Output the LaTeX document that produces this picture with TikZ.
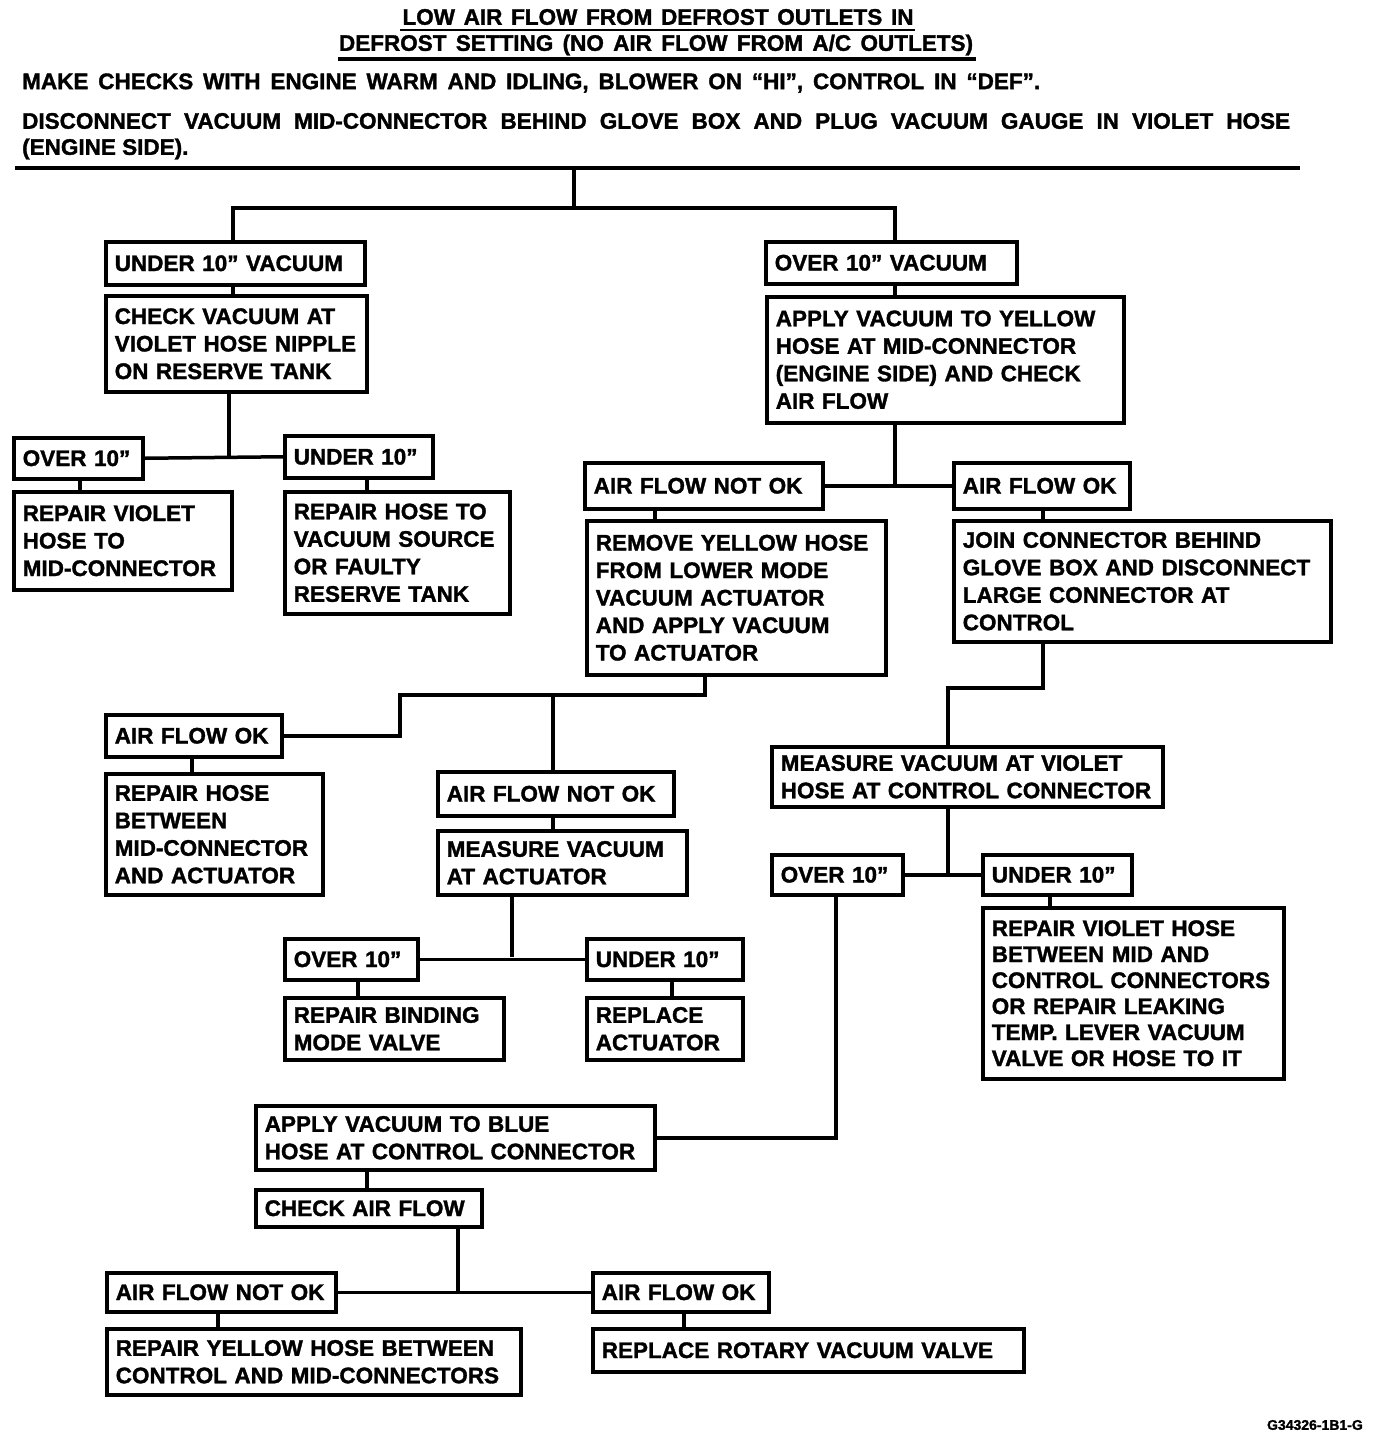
\documentclass[tikz,border=0pt]{standalone}
\usepackage{fontspec}
\setmainfont{Liberation Sans}[BoldFeatures={FakeBold=1.5}]
\begin{document}
\begin{tikzpicture}[x=1pt,y=-1pt,
  box/.style={draw, line width=3.5pt, anchor=north west, align=left,
    inner xsep=9pt, inner ysep=0pt,
    font=\bfseries\fontsize{22.5}{27.5}\selectfont},
  conn/.style={line width=3.5pt},
  hdr/.style={anchor=west, inner sep=0pt, font=\bfseries\fontsize{22.5}{27}\selectfont},
  ttl/.style={inner sep=0pt, font=\bfseries\fontsize{22.5}{26}\selectfont}]
\useasboundingbox (0,0) rectangle (1392,1436);
\fill[white] (0,0) rectangle (1392,1436);

% header
\node[ttl] (t1) at (658,17) {\makebox[511pt][s]{LOW AIR FLOW FROM DEFROST OUTLETS IN}};
\node[ttl] (t2) at (656,45) {\makebox[634pt][s]{DEFROST SETTING (NO AIR FLOW FROM A/C OUTLETS)}};
\draw[line width=2.5pt] (400,30) -- (915,30);
\draw[line width=4.5pt] (338,59) -- (976,59);
\node[hdr] (h1) at (22,83) {\makebox[1018pt][s]{MAKE CHECKS WITH ENGINE WARM AND IDLING, BLOWER ON ``HI'', CONTROL IN ``DEF''.}};
\node[hdr] (h2) at (22,121) {\makebox[1268pt][s]{DISCONNECT VACUUM MID-CONNECTOR BEHIND GLOVE BOX AND PLUG VACUUM GAUGE IN VIOLET HOSE}};
\node[hdr] (h3) at (22,149) {(ENGINE SIDE).};
\draw[line width=4pt] (15,168) -- (1300,168);

% boxes
\node[box, text width=241pt, minimum height=43pt] (b1) at (104,240) {UNDER 10'' VACUUM};
\node[box, text width=243pt, minimum height=96pt] (b2) at (104,294) {CHECK VACUUM AT\\VIOLET HOSE NIPPLE\\ON RESERVE TANK};
\node[box, text width=111pt, minimum height=41pt] (b3) at (12,436) {OVER 10''};
\node[box, text width=130pt, minimum height=42pt] (b4) at (283,434) {UNDER 10''};
\node[box, text width=200pt, minimum height=98pt] (b5) at (12,490) {REPAIR VIOLET\\HOSE TO\\MID-CONNECTOR};
\node[box, text width=207pt, minimum height=122pt] (b6) at (283,490) {REPAIR HOSE TO\\VACUUM SOURCE\\OR FAULTY\\RESERVE TANK};
\node[box, text width=233pt, minimum height=42pt] (b7) at (764,240) {OVER 10'' VACUUM};
\node[box, text width=339pt, minimum height=126pt] (b8) at (765,295) {APPLY VACUUM TO YELLOW\\HOSE AT MID-CONNECTOR\\(ENGINE SIDE) AND CHECK\\AIR FLOW};
\node[box, text width=220pt, minimum height=46pt] (b9) at (583,461) {AIR FLOW NOT OK};
\node[box, text width=158pt, minimum height=46pt] (b10) at (952,461) {AIR FLOW OK};
\node[box, text width=281pt, minimum height=154pt] (b11) at (585,519) {REMOVE YELLOW HOSE\\FROM LOWER MODE\\VACUUM ACTUATOR\\AND APPLY VACUUM\\TO ACTUATOR};
\node[box, text width=359pt, minimum height=121pt] (b12) at (952,519) {JOIN CONNECTOR BEHIND\\GLOVE BOX AND DISCONNECT\\LARGE CONNECTOR AT\\CONTROL};
\node[box, text width=158pt, minimum height=42pt] (b13) at (104,713) {AIR FLOW OK};
\node[box, text width=199pt, minimum height=121pt] (b14) at (104,772) {REPAIR HOSE\\BETWEEN\\MID-CONNECTOR\\AND ACTUATOR};
\node[box, text width=218pt, minimum height=44pt] (b15) at (436,770) {AIR FLOW NOT OK};
\node[box, text width=231pt, minimum height=64pt] (b16) at (436,829) {MEASURE VACUUM\\AT ACTUATOR};
\node[box, text width=115pt, minimum height=41pt] (b17) at (283,937) {OVER 10''};
\node[box, text width=138pt, minimum height=41pt] (b18) at (585,937) {UNDER 10''};
\node[box, text width=201pt, minimum height=62pt] (b19) at (283,996) {REPAIR BINDING\\MODE VALVE};
\node[box, text width=138pt, minimum height=62pt] (b20) at (585,996) {REPLACE\\ACTUATOR};
\node[box, text width=373pt, minimum height=60pt] (b21) at (770,745) {MEASURE VACUUM AT VIOLET\\HOSE AT CONTROL CONNECTOR};
\node[box, text width=113pt, minimum height=40pt] (b22) at (770,853) {OVER 10''};
\node[box, text width=131pt, minimum height=40pt] (b23) at (981,853) {UNDER 10''};
\node[box, text width=283pt, minimum height=171pt, font=\bfseries\fontsize{22.5}{26}\selectfont] (b24) at (981,906) {REPAIR VIOLET HOSE\\BETWEEN MID AND\\CONTROL CONNECTORS\\OR REPAIR LEAKING\\TEMP. LEVER VACUUM\\VALVE OR HOSE TO IT};
\node[box, text width=381pt, minimum height=64pt] (b25) at (254,1104) {APPLY VACUUM TO BLUE\\HOSE AT CONTROL CONNECTOR};
\node[box, text width=208pt, minimum height=37pt] (b26) at (254,1188) {CHECK AIR FLOW};
\node[box, text width=211pt, minimum height=39pt] (b27) at (105,1271) {AIR FLOW NOT OK};
\node[box, text width=158pt, minimum height=39pt] (b28) at (591,1271) {AIR FLOW OK};
\node[box, text width=396pt, minimum height=66pt] (b29) at (105,1327) {REPAIR YELLOW HOSE BETWEEN\\CONTROL AND MID-CONNECTORS};
\node[box, text width=413pt, minimum height=43pt] (b30) at (591,1327) {REPLACE ROTARY VACUUM VALVE};

\node[inner sep=0pt, anchor=east, font=\bfseries\fontsize{14}{16}\selectfont] (fig) at (1363,1425) {G34326-1B1-G};

% coordinates
\coordinate (r0) at (574,168);
\coordinate (r1) at (574,208);
\coordinate (ta) at (233,208);
\coordinate (tb) at (895,208);
\coordinate (j1) at (229,457);
\coordinate (c5) at (80,0);
\coordinate (c6) at (367,0);
\coordinate (j2) at (895,484);
\coordinate (c11) at (655,0);
\coordinate (c12) at (1043,0);
\coordinate (k1) at (705,695);
\coordinate (k2) at (400,695);
\coordinate (k3) at (553,695);
\coordinate (c14) at (192,0);
\coordinate (j3) at (512,957);
\coordinate (c19) at (358,0);
\coordinate (c20) at (672,0);
\coordinate (m1) at (1043,688);
\coordinate (m2) at (948,688);
\coordinate (j4) at (948,873);
\coordinate (c24) at (1050,0);
\coordinate (n1) at (836,0);
\coordinate (c26) at (367,0);
\coordinate (j5) at (458,1291);
\coordinate (c29) at (218,0);
\coordinate (c30) at (684,0);

% connectors
\draw[conn] (r0) -- (r1);
\draw[conn] (b1.north -| ta) -- (ta) -- (tb) -- (b7.north -| tb);
\draw[conn] (b1.south -| ta) -- (b2.north -| ta);
\draw[conn] (b2.south -| j1) -- (j1);
\draw[conn] (b3.east) -- (b4.west);
\draw[conn] (b3.south -| c5) -- (b5.north -| c5);
\draw[conn] (b4.south -| c6) -- (b6.north -| c6);
\draw[conn] (b7.south -| tb) -- (b8.north -| tb);
\draw[conn] (b8.south -| j2) -- (j2);
\draw[conn] (b9.east) -- (b10.west);
\draw[conn] (b9.south -| c11) -- (b11.north -| c11);
\draw[conn] (b10.south -| c12) -- (b12.north -| c12);
\draw[conn] (b11.south -| k1) -- (k1) -- (k2) |- (b13.east);
\draw[conn] (k3) -- (b15.north -| k3);
\draw[conn] (b13.south -| c14) -- (b14.north -| c14);
\draw[conn] (b15.south -| k3) -- (b16.north -| k3);
\draw[conn] (b16.south -| j3) -- (j3);
\draw[conn] (b17.east) -- (b18.west);
\draw[conn] (b17.south -| c19) -- (b19.north -| c19);
\draw[conn] (b18.south -| c20) -- (b20.north -| c20);
\draw[conn] (b12.south -| m1) -- (m1) -- (m2) -- (b21.north -| m2);
\draw[conn] (b21.south -| j4) -- (j4);
\draw[conn] (b22.east) -- (b23.west);
\draw[conn] (b23.south -| c24) -- (b24.north -| c24);
\draw[conn] (b22.south -| n1) |- (b25.east);
\draw[conn] (b25.south -| c26) -- (b26.north -| c26);
\draw[conn] (b26.south -| j5) -- (j5);
\draw[conn] (b27.east) -- (b28.west);
\draw[conn] (b27.south -| c29) -- (b29.north -| c29);
\draw[conn] (b28.south -| c30) -- (b30.north -| c30);
\end{tikzpicture}
\end{document}
